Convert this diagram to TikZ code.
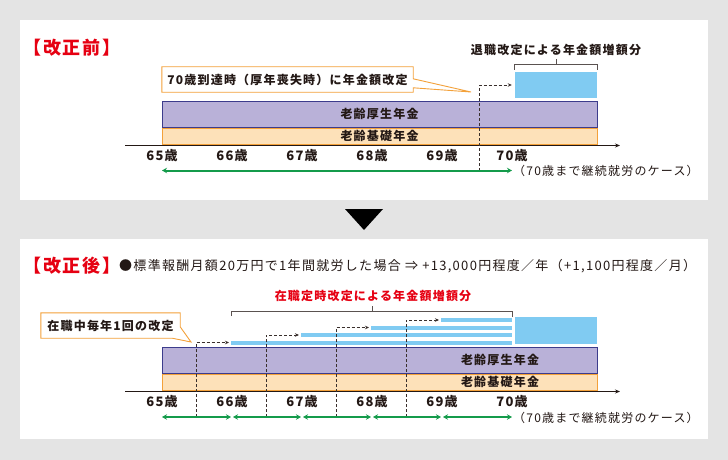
\documentclass[tikz,border=0pt]{standalone}
\usepackage{fontspec}
\setmainfont{Noto Sans CJK JP}
\newfontfamily\jp[LetterSpace=10]{Noto Sans CJK JP}
\usetikzlibrary{arrows.meta}

\definecolor{bggray}{RGB}{228,228,228}
\definecolor{kosei}{RGB}{185,177,216}
\definecolor{koseiline}{RGB}{60,60,140}
\definecolor{kiso}{RGB}{253,225,185}
\definecolor{kisoline}{RGB}{243,161,58}
\definecolor{zouka}{RGB}{128,203,242}
\definecolor{nenkingreen}{RGB}{20,155,75}
\definecolor{titlered}{RGB}{230,0,18}
\definecolor{ink}{RGB}{35,24,21}

\begin{document}
\begin{tikzpicture}[x=1pt,y=-1pt,
  midasi/.style={text=titlered,inner sep=0,font=\jp\bfseries\fontsize{18}{18}\selectfont},
  calltext/.style={text=ink,inner sep=0,font=\jp\bfseries\fontsize{12}{12}\selectfont},
  callline/.style={draw=kisoline,fill=white,line width=0.9pt},
  koseibar/.style={fill=kosei,draw=koseiline,line width=0.9pt,minimum width=435,minimum height=26,inner sep=0},
  kisobar/.style={fill=kiso,draw=kisoline,line width=0.9pt,minimum width=435,minimum height=16,inner sep=0},
  zoubox/.style={fill=zouka,minimum width=82,inner sep=0},
  strip/.style={fill=zouka,minimum height=4,inner sep=0,anchor=west},
  barlab/.style={text=ink,inner sep=0,font=\jp\bfseries\fontsize{12}{12}\selectfont},
  yearlab/.style={text=ink,inner sep=0,font=\jp\bfseries\fontsize{13}{13}\selectfont},
  bodytext/.style={text=ink,inner sep=0,font=\jp\fontsize{12}{12}\selectfont},
  kakko/.style={draw=ink!75,line width=1pt},
  dashline/.style={draw=ink!90,densely dashed,line width=0.7pt,-{Stealth[length=4pt,width=3.5pt]}},
  greenarr/.style={draw=nenkingreen,line width=2pt,{Stealth[length=5pt,width=5.5pt]}-{Stealth[length=5pt,width=5.5pt]}},
  axisline/.style={draw=ink,line width=0.8pt,-{Stealth[length=5pt,width=4pt]}}]

% background and the two white panels
\fill[bggray] (0,0) rectangle (728,460);
\fill[white] (20,20) rectangle (708,200);
\fill[white] (20,239) rectangle (708,439);

% ---------- before the revision ----------
\node[midasi] (maeTitle) at (72,48) {【改正前】};

% callout
\node[calltext,minimum width=251,minimum height=25] (callA) at (287.5,79.5) {};
\coordinate (tipA) at (471,92);
\draw[callline] (callA.north west) -- (callA.north east) -- ([yshift=-12pt]callA.north east)
  -- (tipA) -- ([yshift=-21pt]callA.north east) -- (callA.south east) -- (callA.south west) -- cycle;
\node[calltext] (callAtext) at (callA) {70歳到達時（厚年喪失時）に年金額改定};

% pension bars
\node[koseibar] (koseiA) at (379.5,114) {};
\node[barlab] (koseiAlab) at (koseiA) {老齢厚生年金};
\node[kisobar] (kisoA) at (379.5,136) {};
\node[barlab] (kisoAlab) at (kisoA) {老齢基礎年金};

% increase at retirement
\node[zoubox,minimum height=26] (zouA) at (556,85) {};
\draw[kakko] ([yshift=2pt]zouA.north west) -- ([yshift=7pt]zouA.north west)
  -- ([yshift=7pt]zouA.north east) -- ([yshift=2pt]zouA.north east);
\draw[kakko] ([yshift=7pt]zouA.north) -- ([yshift=13pt]zouA.north);
\node[barlab] (zouAlab) at (556,50) {退職改定による年金額増額分};

% axis and ages
\coordinate (axA0) at (125,145.5);
\coordinate (axA1) at (620,145.5);
\draw[axisline] (axA0) -- (axA1);
\node[yearlab] (yA65) at (162,156) {65歳};
\node[yearlab] (yA66) at (232,156) {66歳};
\node[yearlab] (yA67) at (302,156) {67歳};
\node[yearlab] (yA68) at (372,156) {68歳};
\node[yearlab] (yA69) at (442,156) {69歳};
\node[yearlab] (yA70) at (512,156) {70歳};

% working period
\coordinate (tA65) at (162,170.5);
\coordinate (tA70) at (512,170.5);
\coordinate (kaiA) at (479,170.5);
\draw[dashline] (kaiA) |- ([xshift=-3pt]zouA.west);
\draw[greenarr] (tA65) -- (tA70);
\node[bodytext,anchor=west] (caseA) at (513,171) {（70歳まで継続就労のケース）};

% arrow between the panels
\fill[black] (345,209) -- (383,209) -- (364,230) -- cycle;

% ---------- after the revision ----------
\node[midasi] (atoTitle) at (72,266) {【改正後】};
\node[bodytext,anchor=west,font=\jp\fontsize{13}{13}\selectfont] (rei) at (119,266.5)
  {●標準報酬月額20万円で1年間就労した場合 ⇒ +13,000円程度／年（+1,100円程度／月）};

\node[barlab,text=titlered] (zouBlab) at (373,296) {在職定時改定による年金額増額分};

% callout
\node[calltext,minimum width=139,minimum height=25] (callB) at (110.5,325.5) {};
\coordinate (tipB) at (191,342);
\draw[callline] (callB.north west) -- (callB.north east) -- ([yshift=-14pt]callB.north east)
  -- (tipB) -- ([xshift=-8pt]callB.south east) -- (callB.south west) -- cycle;
\node[calltext] (callBtext) at (callB) {在職中毎年1回の改定};

% yearly increases
\node[strip,minimum width=281] (s66) at (231,342.5) {};
\node[strip,minimum width=211] (s67) at (301,335) {};
\node[strip,minimum width=141] (s68) at (371,327.5) {};
\node[strip,minimum width=71] (s69) at (441,320) {};
\node[zoubox,minimum height=27] (zouB) at (556,330.5) {};
\coordinate (kakkoL) at (231,311);
\coordinate (kakkoR) at (512,311);
\draw[kakko] ([yshift=-5pt]kakkoL) -- (kakkoL) -- (kakkoR) -- ([yshift=-6pt]kakkoR);
\draw[kakko] (372,311) -- (372,305.5);

% pension bars
\node[koseibar] (koseiB) at (379.5,360) {};
\node[barlab] (koseiBlab) at (500,360) {老齢厚生年金};
\node[kisobar] (kisoB) at (379.5,382) {};
\node[barlab] (kisoBlab) at (500,382) {老齢基礎年金};

% axis and ages
\coordinate (axB0) at (125,391.5);
\coordinate (axB1) at (620,391.5);
\draw[axisline] (axB0) -- (axB1);
\node[yearlab] (yB65) at (162,402) {65歳};
\node[yearlab] (yB66) at (232,402) {66歳};
\node[yearlab] (yB67) at (302,402) {67歳};
\node[yearlab] (yB68) at (372,402) {68歳};
\node[yearlab] (yB69) at (442,402) {69歳};
\node[yearlab] (yB70) at (512,402) {70歳};

% dashed arrows of the yearly revision
\coordinate (kaiB1) at (196,417);
\coordinate (kaiB2) at (266,417);
\coordinate (kaiB3) at (336,417);
\coordinate (kaiB4) at (406,417);
\draw[dashline] (kaiB1) |- ([xshift=-2pt]s66.west);
\draw[dashline] (kaiB2) |- ([xshift=-2pt]s67.west);
\draw[dashline] (kaiB3) |- ([xshift=-2pt]s68.west);
\draw[dashline] (kaiB4) |- ([xshift=-2pt]s69.west);

% working years
\coordinate (tB65) at (162,417);
\coordinate (tB66) at (232,417);
\coordinate (tB67) at (302,417);
\coordinate (tB68) at (372,417);
\coordinate (tB69) at (442,417);
\coordinate (tB70) at (512,417);
\draw[greenarr,shorten >=1pt] (tB65) -- (tB66);
\draw[greenarr,shorten <=1pt,shorten >=1pt] (tB66) -- (tB67);
\draw[greenarr,shorten <=1pt,shorten >=1pt] (tB67) -- (tB68);
\draw[greenarr,shorten <=1pt,shorten >=1pt] (tB68) -- (tB69);
\draw[greenarr,shorten <=1pt] (tB69) -- (tB70);
\node[bodytext,anchor=west] (caseB) at (513,417.5) {（70歳まで継続就労のケース）};
\end{tikzpicture}
\end{document}
